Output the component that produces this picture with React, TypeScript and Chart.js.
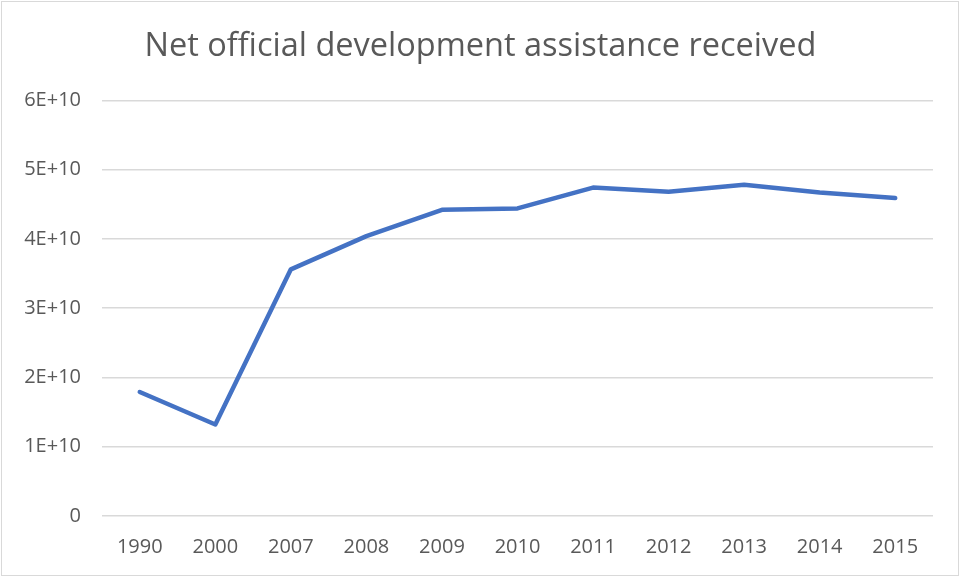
import React, { useEffect, useRef } from "react";
import { Chart, registerables } from "chart.js";

Chart.register(...registerables);

const categories = ["1990", "2000", "2007", "2008", "2009", "2010", "2011", "2012", "2013", "2014", "2015"];
const assistance = [1.79e10, 1.32e10, 3.56e10, 4.04e10, 4.42e10, 4.44e10, 4.74e10, 4.68e10, 4.78e10, 4.67e10, 4.59e10];
const titleText = "Net official development assistance received";
const yTickLabels: Record<number, string> = {
  0: "0",
  1e10: "1E+10",
  2e10: "2E+10",
  3e10: "3E+10",
  4e10: "4E+10",
  5e10: "5E+10",
  6e10: "6E+10",
};

const frame = {
  id: "frame",
  beforeDraw(chart: any) {
    const { ctx, width, height } = chart;
    ctx.save();
    ctx.fillStyle = "#ffffff";
    ctx.fillRect(0, 0, width, height);
    ctx.strokeStyle = "#d9d9d9";
    ctx.lineWidth = 1;
    ctx.strokeRect(1.5, 1.5, width - 4, height - 3);
    ctx.restore();
  },
};

export default function App() {
  const ref = useRef<HTMLCanvasElement | null>(null);
  useEffect(() => {
    document.body.style.margin = "0";
    const chart = new Chart(ref.current!, {
      type: "line",
      data: {
        labels: categories,
        datasets: [
          {
            label: "Net ODA",
            data: assistance,
            borderColor: "#4472C4",
            backgroundColor: "#4472C4",
            borderWidth: 4.5,
            pointRadius: 0,
            borderCapStyle: "round",
            borderJoinStyle: "round",
            tension: 0,
          },
        ],
      },
      options: {
        animation: false,
        responsive: false,
        layout: { padding: { left: 0, right: 0, top: 0, bottom: 0 } },
        plugins: {
          legend: { display: false },
          tooltip: { enabled: false },
          title: {
            display: true,
            text: titleText,
            color: "#595959",
            font: { family: "'Open Sans', sans-serif", size: 32.5, weight: "normal" },
            padding: { top: 27, bottom: 34.3 },
          },
        },
        scales: {
          x: {
            offset: true,
            afterFit(scale: any) {
              scale.height = scale.height - 2;
            },
            grid: { display: false, drawTicks: false },
            border: { display: false },
            ticks: {
              color: "#595959",
              font: { family: "'Open Sans', sans-serif", size: 20 },
              padding: 19.5,
              maxRotation: 0,
            },
          },
          y: {
            min: 0,
            max: 6e10,
            afterFit(scale: any) {
              scale.width = 102;
            },
            grid: { color: "#d9d9d9", lineWidth: 1.5, drawTicks: false },
            border: { display: false },
            ticks: {
              stepSize: 1e10,
              color: "#595959",
              font: { family: "'Open Sans', sans-serif", size: 20 },
              padding: 21,
              callback: (v: any) => yTickLabels[v as number] ?? String(v),
            },
          },
          yRight: {
            position: "right",
            display: true,
            afterFit(scale: any) {
              scale.width = 28;
            },
            grid: { display: false, drawTicks: false },
            border: { display: false },
            ticks: { display: false },
          },
        },
      },
      plugins: [frame],
    });
    return () => chart.destroy();
  }, []);
  return (
    <div style={{ width: 961, height: 577 }}>
      <canvas ref={ref} width={961} height={577} style={{ width: 961, height: 577, display: "block" }} />
    </div>
  );
}
